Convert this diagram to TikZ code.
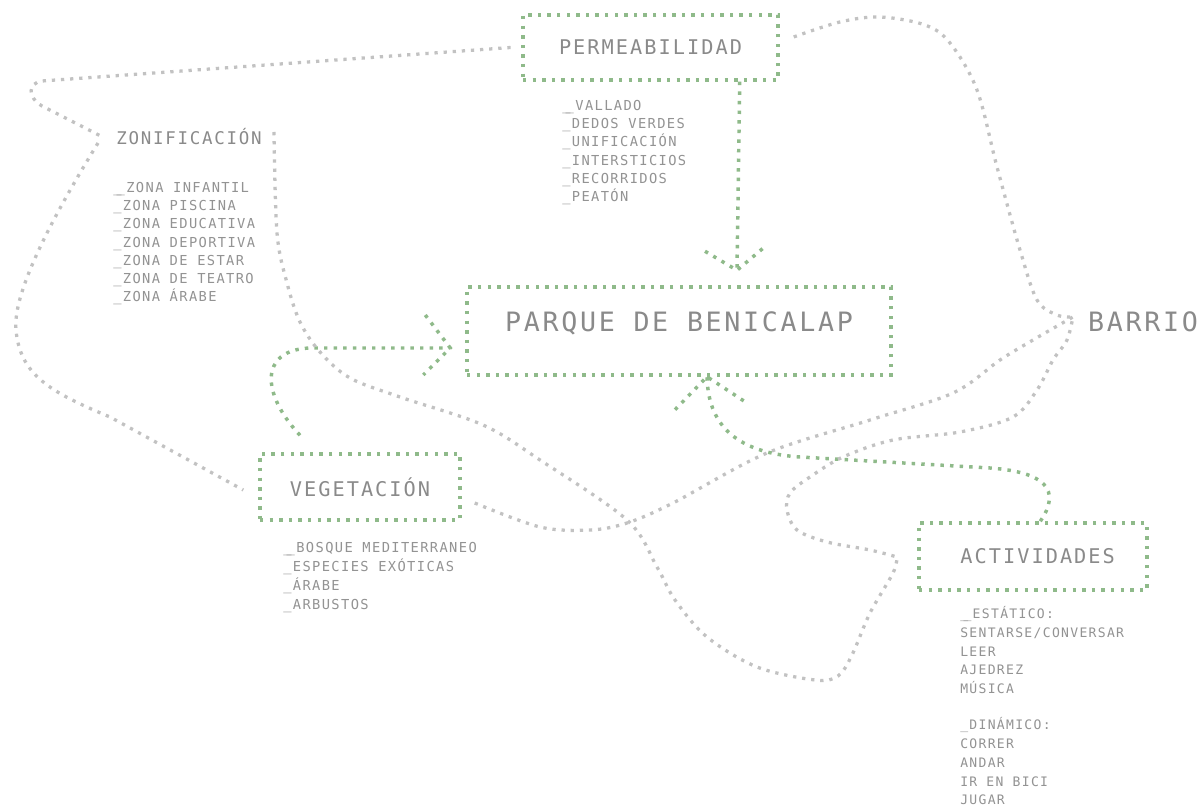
\documentclass[tikz,border=0pt]{standalone}
\usepackage{fontspec}
\newfontfamily\labelfont[LetterSpace=10]{DejaVu Sans Mono}
\definecolor{dotgreen}{RGB}{143,186,138}
\definecolor{dotgrey}{RGB}{194,194,194}
\definecolor{inkgrey}{RGB}{138,138,138}
\newcommand\dblbar{\_\kern-0.35em\_}
\tikzset{
  greendots/.style={draw=dotgreen, line width=2.6pt, dash pattern=on 2.6pt off 4.6pt, line cap=butt},
  greydots/.style={draw=dotgrey, line width=2.45pt, dash pattern=on 2.45pt off 4.4pt, line cap=butt},
  box/.style={greendots, rectangle, inner sep=0pt, text=inkgrey},
  midtitle/.style={font=\labelfont\fontsize{15.2}{18}\selectfont},
  bigtitle/.style={font=\labelfont\fontsize{20}{24}\selectfont, text=inkgrey},
  itemlist/.style={text=inkgrey!92, align=left, anchor=north west, inner sep=0pt},
}
\begin{document}
\begin{tikzpicture}[x=0.75pt, y=-0.75pt]
\fill[white] (0,0) rectangle (1204,812);
\useasboundingbox (0,0) rectangle (1204,812);

% --- boxes and titles ---
\node[box, midtitle, minimum width=191.25pt, minimum height=48.75pt] (perm) at (650.5,47.5) {PERMEABILIDAD};
\node[box, bigtitle, minimum width=318pt, minimum height=66pt] (parque) at (679,331) {\raisebox{13.5pt}{PARQUE DE BENICALAP}};
\node[box, midtitle, minimum width=150pt, minimum height=49.5pt] (veg) at (360,487) {VEGETACIÓN};
\node[box, midtitle, minimum width=171pt, minimum height=50.25pt] (act) at (1033,556.5) {\hspace{7pt}ACTIVIDADES};
\node[bigtitle, inner sep=0pt] (barrio) at (1143,322) {BARRIO};
\node[font=\labelfont\fontsize{13.1}{16}\selectfont, text=inkgrey, inner sep=0pt] (zon) at (189,137) {ZONIFICACIÓN};

% --- item lists ---
\node[itemlist, font=\labelfont\fontsize{10.3}{13.7}\selectfont] (permlist) at (562,97.2) {%
\strut\dblbar VALLADO\\ \_DEDOS VERDES\\ \_UNIFICACIÓN\\ \_INTERSTICIOS\\ \_RECORRIDOS\\ \_PEATÓN};
\node[itemlist, font=\labelfont\fontsize{10.3}{13.7}\selectfont] (zonlist) at (113,179.2) {%
\strut\dblbar ZONA INFANTIL\\ \_ZONA PISCINA\\ \_ZONA EDUCATIVA\\ \_ZONA DEPORTIVA\\ \_ZONA DE ESTAR\\ \_ZONA DE TEATRO\\ \_ZONA ÁRABE};
\node[itemlist, font=\labelfont\fontsize{10.3}{14.3}\selectfont] (veglist) at (283,538.7) {%
\strut\dblbar BOSQUE MEDITERRANEO\\ \_ESPECIES EXÓTICAS\\ \_ÁRABE\\ \_ARBUSTOS};
\node[itemlist, font=\labelfont\fontsize{9.8}{14.1}\selectfont] (actlist) at (960,605) {%
\strut\dblbar ESTÁTICO:\\ SENTARSE/CONVERSAR\\ LEER\\ AJEDREZ\\ MÚSICA\\[13pt] \_DINÁMICO:\\ CORRER\\ ANDAR\\ IR EN BICI\\ JUGAR};

% --- arrow tips ---
\coordinate (t1) at ([xshift=43.5pt, yshift=11.25pt]parque.north);
\coordinate (t2) at ([xshift=-11.25pt, yshift=-12.75pt]parque.west);
\coordinate (t3) at ([xshift=21pt]parque.south);
\coordinate (tb) at ([xshift=-11.25pt, yshift=3.75pt]barrio.west);

% --- green connectors into the park ---
\draw[greendots] ([xshift=-30pt]perm.south east) -- (t1);
\draw[greendots] (t1) ++(-32,-19) -- (t1) -- ++(26,-22);

\draw[greendots] ([xshift=-45pt, yshift=12.75pt]veg.north)
  .. controls (262,395) and (258,350) .. (310,348) -- (t2);
\draw[greendots] (t2) ++(-25,-33) -- (t2) -- ++(-27,27);

\draw[greendots] ([xshift=92.25pt]act.north west)
  .. controls (1062,490) and (1045,472) .. (990,468) -- (800,457)
  .. controls (725,452) and (708,415) .. (t3);
\draw[greendots] (t3) ++(-32,33) -- (t3) -- ++(38,25);

% --- grey links ---
\draw[greydots] ([xshift=-8pt]perm.west) -- (42,81)
  .. controls (28,83) and (27,97) .. (42,106) -- ([xshift=-10pt]zon.west);

\draw[greydots] ([xshift=-13.5pt, yshift=-4.5pt]zon.west)
  .. controls (60,205) and (12,290) .. (16,330)
  .. controls (20,375) and (50,392) .. (110,417) -- ([xshift=-11.25pt, yshift=-2.25pt]veg.west);

\draw[greydots] plot[smooth, tension=0.55] coordinates {
  ([xshift=9pt, yshift=3.75pt]zon.east) (277,233) (287,283) (300,322) (320,352) (350,378)
  (400,397) (483,425) (540,460) (627,520) (657,567) (675,600) (707,637) (757,667) (815,680)
  (838,676) (852,655) (870,613) (893,573) (897,557)}
  -- plot[smooth, tension=0.55] coordinates {(897,557) (870,550) (827,542) (797,530) (787,510)
  (790,493) (810,477) (843,457) (893,440) (960,432) (1013,417) (1037,390) (1053,360) (1067,340) (tb)};

\draw[greydots] plot[smooth, tension=0.55] coordinates {
  ([xshift=9.75pt, yshift=-12pt]veg.east) (540,527) (590,530) (627,523) (673,503) (767,453)
  (870,420) (953,393) (1000,360) (1033,340) (tb)};

\draw[greydots] plot[smooth, tension=0.55] coordinates {
  ([xshift=10.5pt, yshift=7.9pt]perm.east) (840,22) (880,17) (925,25) (950,43) (977,90)
  (997,167) (1020,250) (1037,300) (1057,315) (tb)};
\end{tikzpicture}
\end{document}
